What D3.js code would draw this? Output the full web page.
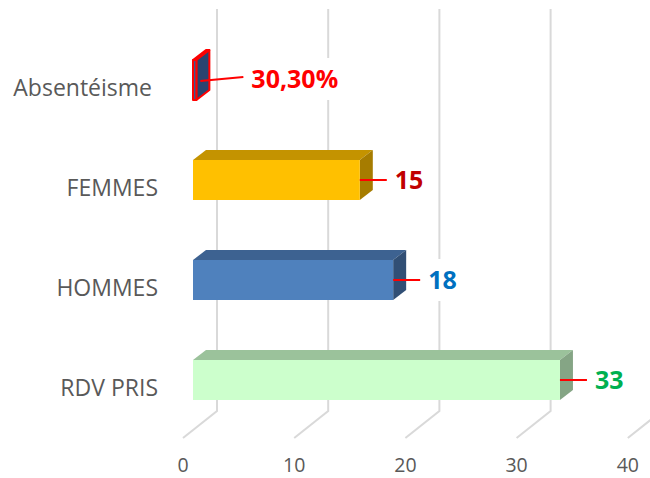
<!DOCTYPE html>
<html>
<head>
<meta charset="utf-8">
<script src="https://cdn.jsdelivr.net/npm/d3@7"></script>
<style>
  html, body { margin: 0; padding: 0; background: #fff; }
  svg { display: block; }
  text { font-family: "Open Sans", sans-serif; }
</style>
</head>
<body>
<svg id="chart" width="650" height="478"></svg>
<script>
// ---- data ----
const categories = ["Absentéisme ", "FEMMES", "HOMMES", "RDV PRIS"];
const values = [0.303, 15, 18, 33];
const valueLabels = ["30,30%", "15", "18", "33"];
const tickValues = [0, 10, 20, 30, 40];

// ---- styles ----
const frontColors = ["#3A5A8C", "#FFC000", "#4F81BD", "#CCFFCC"];
const topColors   = ["#2F4B77", "#C49300", "#3D6291", "#9BC29B"];
const sideColors  = ["#2A4470", "#A67C00", "#314F75", "#85A585"];
const strokeColors = ["#FF0000", null, null, null];
const labelColors = ["#FF0000", "#C00000", "#0070C0", "#00B050"];

const svg = d3.select("#chart");

// front-plane scales
const x = d3.scaleLinear().domain([0, 40]).range([193, 193 + 444.8]);
const y = d3.scaleBand().domain(categories).range([30, 430])
  .paddingInner(0.6).paddingOuter(0.3);

// depth offsets
const backDX = 24, gridTop = 9, gridBottom = 411;
const floorDX = -34, floorDY = 27;
const barDX = 13, barDY = -10;

// gridlines (back wall + floor)
const grid = svg.append("g");
tickValues.forEach(v => {
  const gx = x(v) + backDX;
  grid.append("path")
    .attr("d", `M${gx},${gridTop} L${gx},${gridBottom} L${gx + floorDX},${gridBottom + floorDY}`)
    .attr("fill", "none")
    .attr("stroke", "#D9D9D9")
    .attr("stroke-width", 2);
});

// tick labels
svg.append("g").selectAll("text").data(tickValues).join("text")
  .attr("x", d => x(d) + backDX + floorDX)
  .attr("y", 472)
  .attr("text-anchor", "middle")
  .attr("font-size", 19.5)
  .attr("fill", "#595959")
  .text(d => d);

// category labels
svg.append("g").selectAll("text").data(categories).join("text")
  .attr("x", 158)
  .attr("y", d => y(d) + y.bandwidth() / 2 + 16)
  .attr("text-anchor", "end")
  .attr("font-size", 23)
  .attr("fill", "#595959")
  .style("white-space", "pre")
  .text(d => d);

// bars
const bars = svg.append("g");
categories.forEach((c, i) => {
  const x0 = x(0), x1 = x(values[i]);
  const y0 = y(c), h = y.bandwidth();
  const g = bars.append("g");
  const stroke = strokeColors[i];
  const applyStroke = sel => {
    if (stroke) sel.attr("stroke", stroke).attr("stroke-width", 2).attr("stroke-linejoin", "round");
    return sel;
  };
  applyStroke(g.append("polygon")
    .attr("points", [[x0, y0], [x1, y0], [x1 + barDX, y0 + barDY], [x0 + barDX, y0 + barDY]].map(p => p.join(",")).join(" "))
    .attr("fill", topColors[i]));
  applyStroke(g.append("polygon")
    .attr("points", [[x1, y0], [x1 + barDX, y0 + barDY], [x1 + barDX, y0 + h + barDY], [x1, y0 + h]].map(p => p.join(",")).join(" "))
    .attr("fill", sideColors[i]));
  applyStroke(g.append("rect")
    .attr("x", x0).attr("y", y0)
    .attr("width", Math.max(x1 - x0, 0.5)).attr("height", h)
    .attr("fill", frontColors[i]));
});

// value labels with leader lines
const labels = svg.append("g");
categories.forEach((c, i) => {
  const xEnd = x(values[i]);
  const isTiny = values[i] < 1;
  const cy = y(c) + y.bandwidth() / 2 + (isTiny ? -1 : 0);
  const lx = xEnd + (isTiny ? 55 : 35);
  const t = labels.append("text")
    .attr("x", lx)
    .attr("y", cy)
    .attr("dy", "0.36em")
    .attr("font-size", 25)
    .attr("font-weight", "bold")
    .attr("fill", labelColors[i])
    .text(valueLabels[i]);
  const bb = t.node().getBBox();
  labels.insert("rect", "text")
    .attr("x", bb.x - 5).attr("y", cy - 21)
    .attr("width", bb.width + 10).attr("height", 42)
    .attr("fill", "#fff");
  labels.append("line")
    .attr("x1", xEnd + (isTiny ? 4 : 0)).attr("y1", cy + (isTiny ? 2 : 0))
    .attr("x2", lx - 8).attr("y2", cy - (isTiny ? 2 : 0))
    .attr("stroke", "#FF0000")
    .attr("stroke-width", 2);
});
</script>
</body>
</html>
